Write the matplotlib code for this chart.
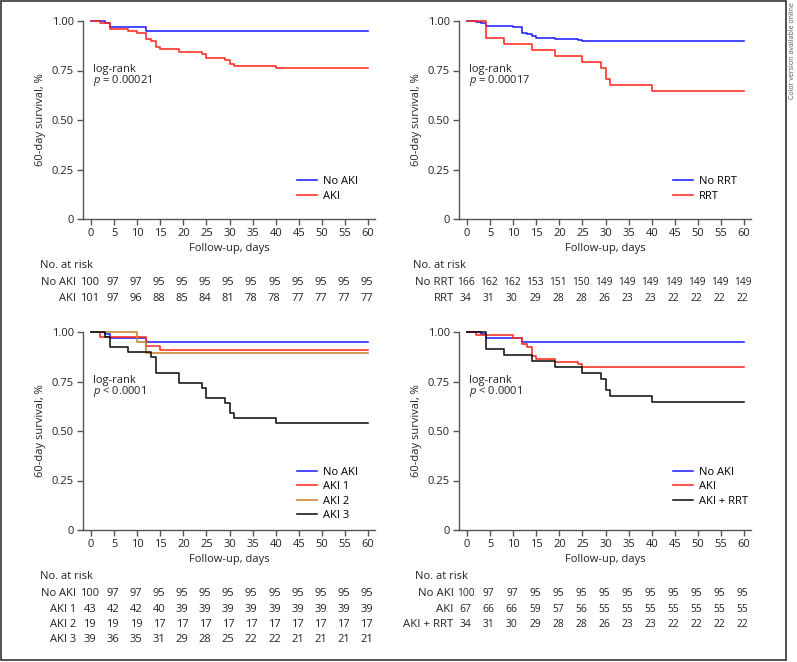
import matplotlib
matplotlib.use("Agg")
import matplotlib.pyplot as plt
import matplotlib.patches as patches
import matplotlib.transforms as mtransforms

plt.rcParams['font.family'] = ['Open Sans', 'DejaVu Sans']
plt.rcParams['mathtext.fontset'] = 'custom'
plt.rcParams['mathtext.it'] = 'Open Sans:italic'
plt.rcParams['mathtext.rm'] = 'Open Sans'

BLUE = '#1f1fff'
RED = '#ff2a1f'
ORANGE = '#c8822a'
BLACK = '#111111'
AXC = '#555555'
TXT = '#222222'

days = list(range(0, 61, 5))

# survival curves (step times, survival)
noaki_t = [0, 3, 4, 12, 60]
noaki_s = [1.0, 0.99, 0.97, 0.95, 0.95]

aki_t = [0, 2, 4, 8, 10, 12, 13, 14, 15, 19, 24, 25, 29, 30, 31, 40, 60]
aki_s = [1.0, 0.990, 0.960, 0.950, 0.941, 0.911, 0.901, 0.871, 0.861, 0.842, 0.832, 0.812, 0.802, 0.782, 0.772,
         0.762, 0.762]

norrt_t = [0, 2, 3, 4, 10, 12, 13, 14, 15, 19, 24, 25, 60]
norrt_s = [1.0, 0.994, 0.988, 0.976, 0.970, 0.940, 0.934, 0.922, 0.916, 0.910, 0.904, 0.898, 0.898]

rrt_t = [0, 4, 8, 14, 19, 25, 29, 30, 31, 40, 60]
rrt_s = [1.0, 0.912, 0.882, 0.853, 0.824, 0.794, 0.765, 0.706, 0.676, 0.647, 0.647]

aki1_t = [0, 2, 12, 15, 60]
aki1_s = [1.0, 0.977, 0.930, 0.907, 0.907]

aki2_t = [0, 10, 12, 60]
aki2_s = [1.0, 0.947, 0.895, 0.895]

aki3_t = [0, 3, 4, 8, 13, 14, 19, 24, 25, 29, 30, 31, 40, 60]
aki3_s = [1.0, 0.974, 0.923, 0.897, 0.872, 0.795, 0.744, 0.718, 0.667, 0.641, 0.590, 0.564, 0.538, 0.538]

akinorrt_t = [0, 2, 10, 12, 13, 14, 15, 19, 24, 25, 60]
akinorrt_s = [1.0, 0.985, 0.970, 0.940, 0.925, 0.881, 0.866, 0.851, 0.836, 0.821, 0.821]

# numbers at risk
risk_noaki = [100, 97, 97, 95, 95, 95, 95, 95, 95, 95, 95, 95, 95]
risk_aki = [101, 97, 96, 88, 85, 84, 81, 78, 78, 77, 77, 77, 77]
risk_norrt = [166, 162, 162, 153, 151, 150, 149, 149, 149, 149, 149, 149, 149]
risk_rrt = [34, 31, 30, 29, 28, 28, 26, 23, 23, 22, 22, 22, 22]
risk_aki1 = [43, 42, 42, 40, 39, 39, 39, 39, 39, 39, 39, 39, 39]
risk_aki2 = [19, 19, 19, 17, 17, 17, 17, 17, 17, 17, 17, 17, 17]
risk_aki3 = [39, 36, 35, 31, 29, 28, 25, 22, 22, 21, 21, 21, 21]
risk_akinorrt = [67, 66, 66, 59, 57, 56, 55, 55, 55, 55, 55, 55, 55]

W, H = 797, 662
FS = 8
fig = plt.figure(figsize=(W / 100, H / 100), dpi=100)


def px_axes(left, top, right, bottom):
    return fig.add_axes([left / W, 1 - bottom / H, (right - left) / W, (bottom - top) / H])


def km_panel(ax, curves, pval, risk_rows, label_x, head_x, label_fs=FS, num_fs=FS):
    for t, s, c, name in curves:
        ax.step(t, s, where='post', color=c, lw=1.15, label=name, clip_on=False)
    ax.set_xlim(-1.75, 61.5)
    ax.set_ylim(0, 1.0)
    ax.set_xticks(days)
    ax.set_yticks([0, 0.25, 0.5, 0.75, 1.0])
    ax.set_yticklabels(['0', '0.25', '0.50', '0.75', '1.00'])
    for sp in ['top', 'right']:
        ax.spines[sp].set_visible(False)
    for sp in ['left', 'bottom']:
        ax.spines[sp].set_color(AXC)
        ax.spines[sp].set_linewidth(1.0)
    ax.tick_params(colors=AXC, labelcolor=TXT, labelsize=FS, length=4, width=1.0, pad=2.5)
    ax.set_xlabel('Follow-up, days', fontsize=FS, color=TXT)
    ax.xaxis.set_label_coords(0.5, -0.122)
    ax.set_ylabel('60-day survival, %', fontsize=FS, color=TXT)
    ax.yaxis.set_label_coords(-0.128, 0.5)
    ax.text(0.4, 0.757, 'log-rank', fontsize=FS, va='center', color=TXT)
    ax.text(0.4, 0.697, '$\\it{p}$ ' + pval, fontsize=FS, va='center', color=TXT)
    n = len(curves)
    ax.legend(loc='upper left', frameon=False, fontsize=FS, handlelength=1.8, handletextpad=0.5,
              labelspacing=0.3, borderpad=0, borderaxespad=0,
              bbox_to_anchor=(0.733, 0.216 if n == 2 else 0.318))

    tr = mtransforms.blended_transform_factory(ax.transData, ax.transAxes)
    ax.text(head_x, -0.237, 'No. at risk', transform=tr, fontsize=FS, va='center', ha='left', color=TXT)
    for i, (name, vals) in enumerate(risk_rows):
        y = -0.323 - 0.076 * i
        ax.text(label_x, y, name, transform=tr, fontsize=label_fs, va='center', ha='right', color=TXT)
        for d, v in zip(days, vals):
            ax.text(d - 0.3, y, str(v), transform=tr, fontsize=num_fs, va='center', ha='center', color=TXT)


ax1 = px_axes(83, 21, 375, 219)
km_panel(ax1, [(noaki_t, noaki_s, BLUE, 'No AKI'), (aki_t, aki_s, RED, 'AKI')], '= 0.00021',
         [('No AKI', risk_noaki), ('AKI', risk_aki)], -3.3, -11.0)

ax2 = px_axes(459, 21, 751, 219)
km_panel(ax2, [(norrt_t, norrt_s, BLUE, 'No RRT'), (rrt_t, rrt_s, RED, 'RRT')], '= 0.00017',
         [('No RRT', risk_norrt), ('RRT', risk_rrt)], -2.9, -11.7, label_fs=8.2, num_fs=7.4)

ax3 = px_axes(83, 332, 375, 530)
km_panel(ax3, [(noaki_t, noaki_s, BLUE, 'No AKI'), (aki1_t, aki1_s, RED, 'AKI 1'),
               (aki2_t, aki2_s, ORANGE, 'AKI 2'), (aki3_t, aki3_s, BLACK, 'AKI 3')], '< 0.0001',
         [('No AKI', risk_noaki), ('AKI 1', risk_aki1), ('AKI 2', risk_aki2), ('AKI 3', risk_aki3)],
         -3.3, -11.0)

ax4 = px_axes(459, 332, 751, 530)
km_panel(ax4, [(noaki_t, noaki_s, BLUE, 'No AKI'), (akinorrt_t, akinorrt_s, RED, 'AKI'),
               (rrt_t, rrt_s, BLACK, 'AKI + RRT')], '< 0.0001',
         [('No AKI', risk_noaki), ('AKI', risk_akinorrt), ('AKI + RRT', risk_rrt)], -2.9, -11.3,
         label_fs=8.2, num_fs=7.4)

# outer frame and side note
fig.patches.append(patches.Rectangle((0.5 / W, 1 - 660 / H), 785 / W, 659.5 / H, transform=fig.transFigure,
                                     fill=False, edgecolor='#333333', lw=1.2))
fig.text(792 / W, 1 - 2 / H, 'Color version available online', rotation=90, ha='center', va='top',
         fontsize=5, color='#555555')

fig.savefig('out.png', dpi=100)
